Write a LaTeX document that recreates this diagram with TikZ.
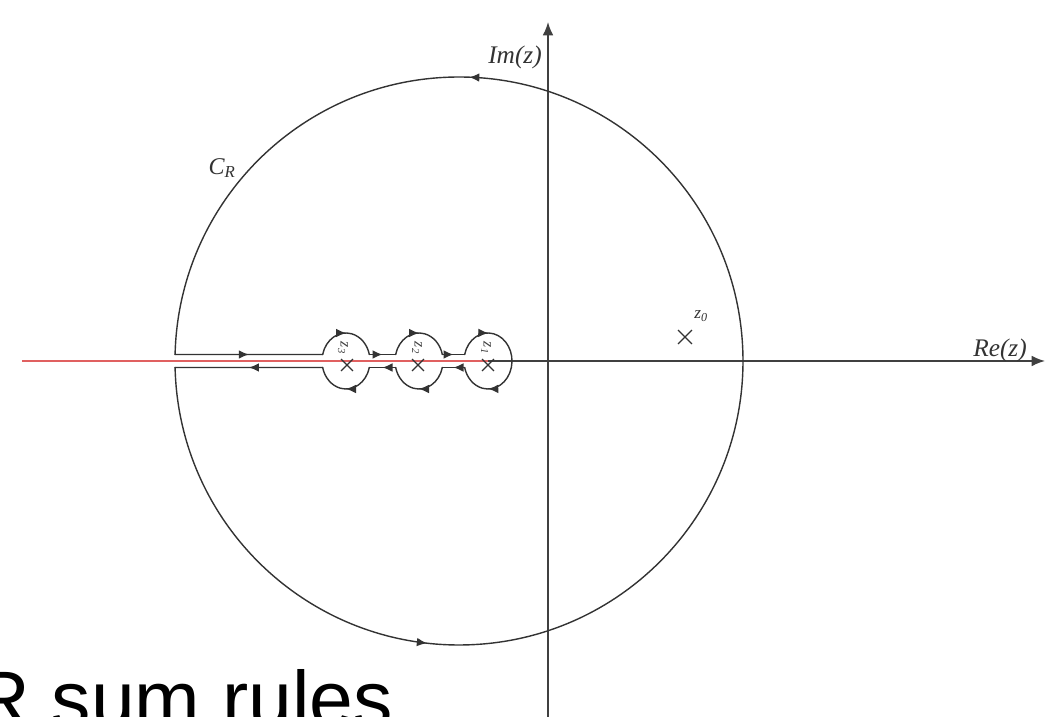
\documentclass[tikz,border=0pt]{standalone}
\usepackage{fontspec}
\setmainfont{Liberation Serif}
\newfontfamily\arialfont{Liberation Sans}
\usetikzlibrary{arrows.meta,decorations.markings,shapes.misc,calc}
\begin{document}
\begin{tikzpicture}[x=0.75pt,y=0.75pt,
  ln/.style={draw=black!80, line width=1.05pt, line cap=round},
  axisline/.style={draw=black!75, line width=1.2pt, -{Latex[length=10pt,width=8pt]}},
  redline/.style={draw={rgb,255:red,224;green,96;blue,96}, line width=2.2pt},
  ctip/.tip={Latex[length=7.5pt,width=6.5pt]},
  midarr/.style={postaction={decorate}, decoration={markings, mark=at position #1 with {\arrow{ctip}}}},
  twoarr/.style 2 args={postaction={decorate}, decoration={markings, mark=at position #1 with {\arrow{ctip}}, mark=at position #2 with {\arrow{ctip}}}},
  lbl/.style={inner sep=0pt, font=\itshape\fontsize{19}{22}\selectfont, text=black!80},
  zlbl/.style={inner sep=0pt, font=\itshape\fontsize{12}{14}\selectfont, text=black!75, rotate=-90},
  xmark/.style={draw=black!80, cross out, inner sep=0pt, line width=0.9pt},
]
\useasboundingbox[fill=white] (0,0) rectangle (1046,717);

% coordinates
\coordinate (O) at (459,356);
\coordinate (c3) at (346,356);
\coordinate (c2) at (419,356);
\coordinate (c1) at (488,356);
\coordinate (xl) at (22,356);
\coordinate (xr) at (1045,356);
\coordinate (yb) at (548,0);
\coordinate (yt) at (548,695);

% axes
\draw[axisline] (xl) -- (xr);
\draw[axisline] (yb) -- (yt);
\draw[redline] (xl) -- (c1);

% big circle with keyhole
\coordinate (Bl) at ($(O)+(181.31:284)$);
\coordinate (Bu) at ($(O)+(178.69:284)$);
\coordinate (a3u) at ($(c3)+(166.6:24 and 28)$);
\coordinate (b3u) at ($(c3)+(13.4:24 and 28)$);
\coordinate (a3d) at ($(c3)+(-166.6:24 and 28)$);
\coordinate (b3d) at ($(c3)+(-13.4:24 and 28)$);
\coordinate (a2u) at ($(c2)+(166.6:24 and 28)$);
\coordinate (b2u) at ($(c2)+(13.4:24 and 28)$);
\coordinate (a2d) at ($(c2)+(-166.6:24 and 28)$);
\coordinate (b2d) at ($(c2)+(-13.4:24 and 28)$);
\coordinate (a1u) at ($(c1)+(166.6:24 and 28)$);
\coordinate (a1d) at ($(c1)+(-166.6:24 and 28)$);

\draw[ln, twoarr={0.23}{0.746}] (Bl) arc[start angle=181.31, end angle=538.69, radius=284];
\draw[ln, midarr=0.5] (Bu) -- (a3u);
\draw[ln, midarr=0.5] (a3u) arc[start angle=166.6, end angle=13.4, x radius=24, y radius=28];
\draw[ln, midarr=0.5] (b3u) -- (a2u);
\draw[ln, midarr=0.5] (a2u) arc[start angle=166.6, end angle=13.4, x radius=24, y radius=28];
\draw[ln, midarr=0.5] (b2u) -- (a1u);
\draw[ln, twoarr={0.23}{0.77}] (a1u) arc[start angle=166.6, end angle=-166.6, x radius=24, y radius=28];
\draw[ln, midarr=0.5] (a1d) -- (b2d);
\draw[ln, midarr=0.5] (b2d) arc[start angle=-13.4, end angle=-166.6, x radius=24, y radius=28];
\draw[ln, midarr=0.5] (a2d) -- (b3d);
\draw[ln, midarr=0.5] (b3d) arc[start angle=-13.4, end angle=-166.6, x radius=24, y radius=28];
\draw[ln, midarr=0.5] (a3d) -- (Bl);

% poles
\node[xmark, minimum size=8pt] (p3) at (347,352) {};
\node[xmark, minimum size=8pt] (p2) at (418,352) {};
\node[xmark, minimum size=8pt] (p1) at (488,352) {};
\node[zlbl] (l3) at (343,369) {z\textsubscript{3}};
\node[zlbl] (l2) at (417,369) {z\textsubscript{2}};
\node[zlbl] (l1) at (486,369) {z\textsubscript{1}};

\node[xmark, minimum size=9.5pt] (p0) at (685,380) {};
\node[inner sep=0pt, font=\itshape\fontsize{13}{15}\selectfont, text=black!80] (l0) at (701,401) {z\textsubscript{0}};

% labels
\node[lbl] (im) at (515,660) {Im(z)};
\node[lbl] (re) at (1000,367) {Re(z)};
\node[lbl, font=\itshape\fontsize{18}{21}\selectfont] (cr) at (222,549) {C\textsubscript{R}};

% bottom title (cut by the lower and left edges, as in the reference)
\node[anchor=base west, inner sep=0pt, font=\arialfont\fontsize{59}{70}\selectfont] (title) at (-27,-10) {R sum rules};
\end{tikzpicture}
\end{document}
